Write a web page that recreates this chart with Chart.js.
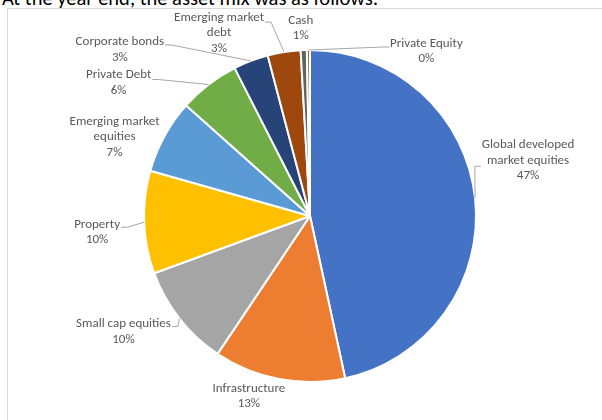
<!DOCTYPE html>
<html>
<head>
<meta charset="utf-8">
<script src="https://cdn.jsdelivr.net/npm/chart.js@4.4.1/dist/chart.umd.min.js"></script>
<style>
  html, body { margin: 0; padding: 0; background: #fff; }
  body { width: 602px; height: 420px; position: relative; overflow: hidden; }
  #title {
    position: absolute; left: 2px; top: -15px;
    font: 20.5px Carlito, Lato, "Open Sans", sans-serif; color: #000;
    white-space: nowrap;
  }
  #frame {
    position: absolute; left: 7px; top: 8px; width: 640px; height: 460px;
    border: 1.5px solid #d9d9d9; box-sizing: border-box;
  }
  #wrap { position: absolute; left: 0; top: 0; width: 602px; height: 420px; }
</style>
</head>
<body>
<div id="title">At the year end, the asset mix was as follows:</div>
<div id="frame"></div>
<div id="wrap"><canvas id="mixChart"></canvas></div>
<script>
// Asset mix at year end (share of total, %)
const categories = [
  'Global developed market equities', 'Infrastructure', 'Small cap equities', 'Property',
  'Emerging market equities', 'Private Debt', 'Corporate bonds', 'Emerging market debt',
  'Cash', 'Private Equity'
];
const shares = [46.6, 12.8, 10.0, 10.0, 7.2, 5.9, 3.4, 3.2, 0.6, 0.3];
const labelLines = [
  ['Global developed', 'market equities'], ['Infrastructure'], ['Small cap equities'], ['Property'],
  ['Emerging market', 'equities'], ['Private Debt'], ['Corporate bonds'], ['Emerging market', 'debt'],
  ['Cash'], ['Private Equity']
];
const colors = ['#4472C4', '#ED7D31', '#A5A5A5', '#FFC000', '#5B9BD5',
                '#70AD47', '#264478', '#9E480E', '#636363', '#997300'];

// Label placement: offset of label centre from the slice's outer mid point,
// leader side ('l' = line attaches to label's left, 'r' = right, null = none), leader y shift
const labelLayout = [
  { dx: 53, dy: -38, side: 'l', ay: 6 },
  { dx: -30, dy: 17, side: null, ay: 0 },
  { dx: -56, dy: 13, side: 'r', ay: -5 },
  { dx: -47, dy: 10, side: 'r', ay: -5 },
  { dx: -50, dy: 1, side: null, ay: 0 },
  { dx: -90, dy: -2, side: 'r', ay: -3 },
  { dx: -131, dy: -11, side: 'r', ay: -5 },
  { dx: -65, dy: -19, side: 'r', ay: -11 },
  { dx: -3, dy: -22, side: null, ay: 0 },
  { dx: 118, dy: 1, side: 'l', ay: -4 }
];

const LABEL_FONT = '13px Carlito, Lato, "Open Sans", sans-serif';
const LINE_H = 15.5;

const pieLabels = {
  id: 'pieLabels',
  afterDatasetsDraw(chart) {
    const ctx = chart.ctx;
    const meta = chart.getDatasetMeta(0);
    ctx.save();
    ctx.font = LABEL_FONT;
    meta.data.forEach((arc, i) => {
      const mid = (arc.startAngle + arc.endAngle) / 2;
      const ex = arc.x + Math.cos(mid) * arc.outerRadius;
      const ey = arc.y + Math.sin(mid) * arc.outerRadius;
      const lay = labelLayout[i];
      const cx = ex + lay.dx, cy = ey + lay.dy;
      const lines = labelLines[i].concat([Math.round(shares[i]) + '%']);
      const w = Math.max(...lines.map(t => ctx.measureText(t).width));

      if (lay.side) {
        const ax = lay.side === 'l' ? cx - w / 2 - 1 : cx + w / 2 + 1;
        const ay = cy + lay.ay;
        const bx = lay.side === 'l' ? ax - 6 : ax + 6;
        ctx.strokeStyle = '#a6a6a6';
        ctx.lineWidth = 1;
        ctx.beginPath();
        ctx.moveTo(ex, ey);
        ctx.lineTo(bx, ay);
        ctx.lineTo(ax, ay);
        ctx.stroke();
      }

      ctx.fillStyle = '#595959';
      ctx.textAlign = 'center';
      ctx.textBaseline = 'middle';
      const top = cy - (lines.length - 1) * LINE_H / 2;
      lines.forEach((t, k) => ctx.fillText(t, cx, top + k * LINE_H));
    });
    ctx.restore();
  }
};

const ctxMix = document.getElementById('mixChart').getContext('2d');
new Chart(ctxMix, {
  type: 'pie',
  data: {
    labels: categories,
    datasets: [{
      data: shares,
      backgroundColor: colors,
      borderColor: '#ffffff',
      borderWidth: 2
    }]
  },
  options: {
    responsive: true, maintainAspectRatio: false, animation: false,
    layout: { padding: { left: 143, top: 49, right: 125, bottom: 37 } },
    plugins: { legend: { display: false }, tooltip: { enabled: false } }
  },
  plugins: [pieLabels]
});
</script>
</body>
</html>
